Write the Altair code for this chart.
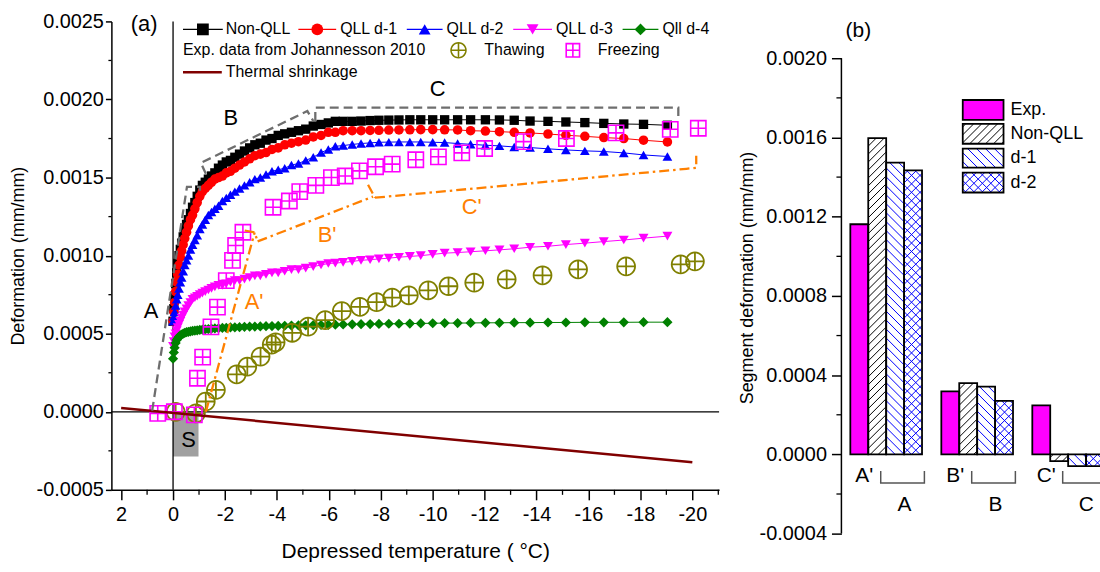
import math
import altair as alt
import pandas as pd

FONT = "Liberation Sans"

# ---------------- panel (a) data ----------------
temp_model = [0.0, -0.03, -0.06, -0.1, -0.14, -0.18, -0.23, -0.28, -0.33, -0.39,
              -0.45, -0.52, -0.59, -0.67, -0.75, -0.84, -0.93, -1.03, -1.13, -1.24,
              -1.36, -1.48, -1.61, -1.75, -1.9, -2.05, -2.21, -2.38, -2.56, -2.75,
              -2.95, -3.15, -3.36, -3.58, -3.81, -4.05, -4.3, -4.56, -4.83, -5.11,
              -5.4, -5.7, -5.98, -6.25, -6.55, -6.9, -7.24, -7.59, -7.93, -8.31,
              -8.7, -9.12, -9.54, -10.0, -10.46, -10.96, -11.46, -12.03, -12.57, -13.14,
              -13.75, -14.44, -15.13, -15.86, -16.59, -17.36, -18.12, -19.04]

non_qll = [0.00058, 0.00066, 0.00074, 0.00082, 0.00089, 0.00095, 0.00100, 0.00104, 0.00108, 0.00112,
           0.00116, 0.00120, 0.00123, 0.00127, 0.00131, 0.00134, 0.00138, 0.00142, 0.00145, 0.00147,
           0.00149, 0.00151, 0.00153, 0.00156, 0.00158, 0.00160, 0.00161, 0.00163, 0.00165, 0.00167,
           0.00169, 0.00171, 0.00172, 0.00174, 0.00175, 0.00177, 0.00178, 0.00179, 0.00180, 0.00181,
           0.00183, 0.00184, 0.00185, 0.00186, 0.00186, 0.00186, 0.001862, 0.001865, 0.001867, 0.001868,
           0.001869, 0.00187, 0.00187, 0.00187, 0.00187, 0.00187, 0.00187, 0.00187, 0.001869, 0.001867,
           0.001862, 0.00186, 0.001856, 0.001852, 0.001847, 0.001843, 0.001841, 0.001835]

qll_d1 = [0.00058, 0.00064, 0.00070, 0.00077, 0.00083, 0.00088, 0.00094, 0.00099, 0.00103, 0.00107,
          0.00111, 0.00115, 0.00119, 0.00123, 0.00126, 0.00130, 0.00134, 0.00138, 0.00141, 0.00143,
          0.00145, 0.00147, 0.00149, 0.00150, 0.00151, 0.00153, 0.00154, 0.00156, 0.00158, 0.00160,
          0.00162, 0.00164, 0.00165, 0.00166, 0.00168, 0.00169, 0.00171, 0.00172, 0.00173, 0.00174,
          0.00176, 0.00177, 0.00179, 0.00179, 0.00180, 0.00180, 0.00180, 0.001802, 0.001803, 0.001804,
          0.001805, 0.001806, 0.001807, 0.001807, 0.001806, 0.001805, 0.0018, 0.001798, 0.001794, 0.00179,
          0.001786, 0.001779, 0.001771, 0.001764, 0.001756, 0.00175, 0.001739, 0.001728]

qll_d2 = [0.00058, 0.00061, 0.00064, 0.00068, 0.00072, 0.00075, 0.00079, 0.00083, 0.00086, 0.00090,
          0.00094, 0.00097, 0.00100, 0.00104, 0.00107, 0.00110, 0.00113, 0.00117, 0.00120, 0.00123,
          0.00126, 0.00128, 0.00130, 0.00132, 0.00135, 0.00137, 0.00139, 0.00141, 0.00143, 0.00145,
          0.00147, 0.00149, 0.00150, 0.00152, 0.00154, 0.00155, 0.00156, 0.00158, 0.00159, 0.00161,
          0.00163, 0.00166, 0.00168, 0.00170, 0.001705, 0.001712, 0.001718, 0.001722, 0.001726, 0.001727,
          0.001728, 0.001728, 0.001728, 0.001726, 0.001724, 0.001718, 0.001713, 0.001707, 0.001703, 0.001696,
          0.001692, 0.001684, 0.001677, 0.001671, 0.001667, 0.001658, 0.001645, 0.001635]

qll_d3 = [0.00042, 0.00045, 0.00048, 0.00050, 0.00052, 0.00054, 0.00056, 0.00058, 0.00060, 0.00062,
          0.00064, 0.00066, 0.00068, 0.00070, 0.00072, 0.00073, 0.00074, 0.00075, 0.00076, 0.00077,
          0.00078, 0.00079, 0.00080, 0.00081, 0.00081, 0.00082, 0.00083, 0.00084, 0.00084, 0.00085,
          0.00086, 0.00087, 0.00087, 0.00088, 0.00089, 0.00089, 0.00090, 0.00091, 0.00091, 0.00092,
          0.00093, 0.00094, 0.00095, 0.000952, 0.000957, 0.000963, 0.00097, 0.000974, 0.000979, 0.000984,
          0.00099, 0.000995, 0.001, 0.001008, 0.001016, 0.00102, 0.001025, 0.001031, 0.001037, 0.001044,
          0.001054, 0.00106, 0.001071, 0.00108, 0.00109, 0.0011, 0.001112, 0.001125]

qll_d4 = [0.00034, 0.00038, 0.00041, 0.00044, 0.00046, 0.00047, 0.00048, 0.00049, 0.000495, 0.0005,
          0.000505, 0.00051, 0.000512, 0.000515, 0.000518, 0.00052, 0.000522, 0.000524, 0.000526, 0.000528,
          0.00053, 0.000532, 0.000534, 0.000535, 0.000537, 0.000538, 0.00054, 0.000541, 0.000542, 0.000544,
          0.000545, 0.000546, 0.000547, 0.000548, 0.000549, 0.00055, 0.000551, 0.000552, 0.000553, 0.000554,
          0.000555, 0.000556, 0.000557, 0.000558, 0.000559, 0.00056, 0.000561, 0.000562, 0.000563, 0.000564,
          0.000564, 0.000565, 0.000566, 0.000567, 0.000568, 0.000568, 0.000569, 0.00057, 0.00057, 0.000571,
          0.000571, 0.000572, 0.000572, 0.000573, 0.000573, 0.000573, 0.000574, 0.000574]

thaw_temp = [-0.1, -0.88, -1.26, -1.65, -2.45, -2.86, -3.37, -3.8, -3.95, -4.59,
             -5.2, -5.86, -6.5, -7.2, -7.84, -8.44, -9.08, -9.83, -10.61, -11.6,
             -12.85, -14.23, -15.6, -17.45, -19.55, -20.1]
thaw_def = [0.0, -0.00001, 0.000066, 0.00014, 0.00024, 0.000289, 0.000353, 0.00043, 0.000445, 0.000506,
            0.000545, 0.000587, 0.000645, 0.000672, 0.000702, 0.000731, 0.000746, 0.000778, 0.000804, 0.000827,
            0.000848, 0.000874, 0.000912, 0.000931, 0.000944, 0.000963]

freeze_temp = [0.59, -0.05, -0.82, -0.94, -1.14, -1.46, -1.71, -2.05, -2.29, -2.41,
               -2.69, -3.85, -4.48, -4.88, -5.5, -6.1, -6.63, -7.18, -7.8, -8.44,
               -9.35, -10.22, -11.12, -12.0, -13.5, -15.15, -17.06, -19.15, -20.23]
freeze_def = [-0.00001, 0.0, -0.00002, 0.000215, 0.00035, 0.000544, 0.00067, 0.00084, 0.00097, 0.001065,
              0.00115, 0.00131, 0.00135, 0.00141, 0.00145, 0.0015, 0.00151, 0.001543, 0.001569, 0.001586,
              0.001614, 0.001633, 0.001658, 0.001686, 0.00173, 0.00175, 0.001786, 0.001809, 0.001816]

shrink_temp = [2.0, -20.0]
shrink_def = [0.000024, -0.000323]

series_names = ["Non-QLL", "QLL d-1", "QLL d-2", "QLL d-3", "Qll d-4"]
series_values = [non_qll, qll_d1, qll_d2, qll_d3, qll_d4]
series_colors = ["#000000", "#FF0000", "#0000FF", "#FF00FF", "#008000"]
series_shapes = ["square", "circle", "triangle-up", "triangle-down", "diamond"]
series_sizes = [88, 105, 135, 135, 160]

# annotation paths (segments A, B, C and A', B', C')
gray_path = ["A", "A", "A", "A", "B", "B", "B", "B", "C", "C", "C", "C"]
gray_x = [0.805, -0.536, -1.034, -1.034, -1.264, -1.073, -5.172, -5.402, -5.479, -5.479, -19.46, -19.46]
gray_y = [0.0000064, 0.001441, 0.001441, 0.001416, 0.001524, 0.001594, 0.001926, 0.001862,
          0.001862, 0.001948, 0.001948, 0.001862]

orange_path = ["a1", "a1", "a2", "a2", "a2", "b1", "b1", "b2", "b2", "c1", "c1", "c1", "c1"]
orange_x = [-1.264, -3.142, -2.759, -3.142, -3.257, -3.257, -7.701, -7.510, -7.778, -7.778, -19.77, -20.15, -20.15]
orange_y = [0.0, 0.001148, 0.001161, 0.001148, 0.001091, 0.001091, 0.001378, 0.001454, 0.001371,
            0.001371, 0.001556, 0.001563, 0.001639]

black_labels = ["A", "B", "C"]
black_label_x = [0.843, -2.22, -10.19]
black_label_y = [0.000644, 0.00188, 0.00207]
orange_labels = ["A'", "B'", "C'"]
orange_label_x = [-3.12, -5.93, -11.5]
orange_label_y = [0.000703, 0.001129, 0.001309]

s_box_x = [0.0, -0.98]
s_box_y = [0.0, -0.000287]

# ---------------- panel (b) data ----------------
seg_primes = ["A'", "B'", "C'"]
seg_plain = ["A", "B", "C"]
bar_series = ["Exp.", "Non-QLL", "d-1", "d-2"]
exp_seg = [0.001162, 0.000318, 0.000247]
nonqll_seg = [0.001597, 0.00036, -0.0000335]
d1_seg = [0.001473, 0.000342, -0.000059]
d2_seg = [0.001434, 0.00027, -0.000059]

# ---------------- layout constants ----------------
A_LEFT, A_TOP, A_W, A_H = 110, 20, 611, 471
XMAX, XMIN = 2.375, -21.03
YMIN, YMAX = -0.0005, 0.0025
B_LEFT, B_TOP, B_W, B_H = 840, 20, 260, 515
BXMIN, BXMAX = -0.492, 2.35
BYMIN, BYMAX = -0.0004, 0.002186
BW = 0.197
PXX = B_W / (BXMAX - BXMIN)
PXY = B_H / (BYMAX - BYMIN)


def ax(px):
    return XMAX - (px - A_LEFT) * (XMAX - XMIN) / A_W


def ay(py):
    return YMAX - (py - A_TOP) * (YMAX - YMIN) / A_H


def bx(px):
    return BXMIN + (px - B_LEFT) * (BXMAX - BXMIN) / B_W


def by(py):
    return BYMAX - (py - B_TOP) * (BYMAX - BYMIN) / B_H


def hatch(X0, X1, Y0, Y1, slope, step):
    out = []
    if slope > 0:
        c_lo, c_hi = Y0 - X1, Y1 - X0
    else:
        c_lo, c_hi = Y0 + X0, Y1 + X1
    k = math.floor(c_lo / step) + 1
    while k * step < c_hi:
        c = k * step
        if slope > 0:
            lo, hi = max(X0, Y0 - c), min(X1, Y1 - c)
            if hi - lo > 0.5:
                out.append((lo, lo + c, hi, hi + c))
        else:
            lo, hi = max(X0, c - Y1), min(X1, c - Y0)
            if hi - lo > 0.5:
                out.append((lo, c - lo, hi, c - hi))
        k += 1
    return out


circle_pts = " ".join(
    ("M" if i == 0 else "L") + f"{math.cos(2 * math.pi * i / 28):.3f},{math.sin(2 * math.pi * i / 28):.3f}"
    for i in range(28))
THAW_SHAPE = circle_pts + " Z M-1,0 L1,0 M0,-1 L0,1"
FREEZE_SHAPE = "M-1,-1 L1,-1 L1,1 L-1,1 Z M-1,0 L1,0 M0,-1 L0,1"

ylab_expr = "replace(format(datum.value, '.4f'), '\u2212', '-')"

# ---------------- panel (a) chart ----------------
XA = alt.X("x:Q", scale=alt.Scale(domain=[XMIN, XMAX], reverse=True, nice=False, zero=False),
           axis=alt.Axis(values=list(range(2, -21, -2)), labelExpr="'' + datum.value",
                         title="Depressed temperature ( \u00b0C)", tickSize=10, labelPadding=5,
                         titlePadding=16, titleFontSize=21))
YA = alt.Y("y:Q", scale=alt.Scale(domain=[YMIN, YMAX], nice=False, zero=False),
           axis=alt.Axis(values=[-0.0005, 0.0, 0.0005, 0.001, 0.0015, 0.002, 0.0025], labelExpr=ylab_expr,
                         title="Deformation (mm/mm)", tickSize=6, labelPadding=2, titlePadding=9,
                         titleFontSize=18))
COLOR = alt.Color("series:N", scale=alt.Scale(domain=series_names, range=series_colors), legend=None)
SHAPE = alt.Shape("series:N", scale=alt.Scale(domain=series_names, range=series_shapes), legend=None)
SIZE = alt.Size("series:O", scale=alt.Scale(domain=series_names, range=series_sizes), legend=None)

model_df = pd.DataFrame([
    {"series": n, "x": t, "y": v}
    for n, vals in zip(series_names, series_values)
    for t, v in zip(temp_model, vals)
])

box = alt.Chart(pd.DataFrame({"x": [s_box_x[0]], "x2": [s_box_x[1]], "y": [s_box_y[0]], "y2": [s_box_y[1]]})
                ).mark_rect(color="#A0A0A0").encode(x=XA, x2="x2:Q", y=YA, y2="y2:Q")

zero = alt.Chart(pd.DataFrame({"x": [XMAX, 0.0], "x2": [XMIN, 0.0], "y": [0.0, YMIN], "y2": [0.0, YMAX]})
                 ).mark_rule(color="black", strokeWidth=1.3).encode(x=XA, x2="x2:Q", y=YA, y2="y2:Q")

lines = alt.Chart(model_df).mark_line(strokeWidth=1).encode(x=XA, y=YA, color=COLOR, detail="series:N")
points = alt.Chart(model_df).mark_point(filled=True, opacity=1).encode(x=XA, y=YA, color=COLOR, shape=SHAPE, size=SIZE)

thaw = alt.Chart(pd.DataFrame({"x": thaw_temp, "y": thaw_def})).mark_point(
    shape=THAW_SHAPE, filled=False, color="#808000", size=324, strokeWidth=1.8, opacity=1).encode(x=XA, y=YA)
freeze = alt.Chart(pd.DataFrame({"x": freeze_temp, "y": freeze_def})).mark_point(
    shape=FREEZE_SHAPE, filled=False, color="#FF00FF", size=235, strokeWidth=1.6, opacity=1).encode(x=XA, y=YA)

shrink = alt.Chart(pd.DataFrame({"x": shrink_temp, "y": shrink_def})).mark_line(
    color="#800000", strokeWidth=2.5).encode(x=XA, y=YA)

gray_df = pd.DataFrame({"path": gray_path, "x": gray_x, "y": gray_y, "ord": range(len(gray_x))})
gray = alt.Chart(gray_df).mark_line(color="#6E6E6E", strokeWidth=2.3, strokeDash=[9, 5]).encode(
    x=XA, y=YA, detail="path:N", order="ord:Q")
orange_df = pd.DataFrame({"path": orange_path, "x": orange_x, "y": orange_y, "ord": range(len(orange_x))})
orange = alt.Chart(orange_df).mark_line(color="#FF8000", strokeWidth=2.3, strokeDash=[10, 4, 2.5, 4]).encode(
    x=XA, y=YA, detail="path:N", order="ord:Q")

txt_black = alt.Chart(pd.DataFrame({
    "x": black_label_x + [-0.6, ax(143)], "y": black_label_y + [-0.00018, ay(23)],
    "t": black_labels + ["S", "(a)"]})).mark_text(font=FONT, fontSize=22, color="black").encode(
    x=XA, y=YA, text="t:N")
txt_orange = alt.Chart(pd.DataFrame({"x": orange_label_x, "y": orange_label_y, "t": orange_labels})
                       ).mark_text(font=FONT, fontSize=22, color="#FF8000").encode(x=XA, y=YA, text="t:N")

# legend of panel (a)
leg_x0 = [182, 298, 407, 514, 624]
leg_x1 = [222, 336, 443, 553, 660]
leg_tx = [225, 340, 447, 557, 664]
row1, row2, row3 = 28, 49, 71
leg_line_df = pd.DataFrame({"series": series_names, "x": [ax(p) for p in leg_x0],
                            "x2": [ax(p) for p in leg_x1], "y": [ay(row1)] * 5})
leg_lines = alt.Chart(leg_line_df).mark_rule(strokeWidth=1.2).encode(x=XA, x2="x2:Q", y=YA, color=COLOR)
leg_pt_df = pd.DataFrame({"series": series_names, "x": [ax((a + b) / 2) for a, b in zip(leg_x0, leg_x1)],
                          "y": [ay(row1)] * 5})
leg_pts = alt.Chart(leg_pt_df).mark_point(filled=True, opacity=1, size=140).encode(
    x=XA, y=YA, color=COLOR, shape=SHAPE)
leg_thaw = alt.Chart(pd.DataFrame({"x": [ax(459)], "y": [ay(row2)]})).mark_point(
    shape=THAW_SHAPE, filled=False, color="#808000", size=225, strokeWidth=1.6, opacity=1).encode(x=XA, y=YA)
leg_freeze = alt.Chart(pd.DataFrame({"x": [ax(574)], "y": [ay(row2)]})).mark_point(
    shape=FREEZE_SHAPE, filled=False, color="#FF00FF", size=180, strokeWidth=1.6, opacity=1).encode(x=XA, y=YA)
leg_shrink = alt.Chart(pd.DataFrame({"x": [ax(182)], "x2": [ax(221)], "y": [ay(row3)]})).mark_rule(
    color="#800000", strokeWidth=2.5).encode(x=XA, x2="x2:Q", y=YA)
leg_text_df = pd.DataFrame({
    "x": [ax(p) for p in leg_tx] + [ax(182), ax(485), ax(599), ax(225)],
    "y": [ay(row1)] * 5 + [ay(row2)] * 3 + [ay(row3)],
    "t": series_names + ["Exp. data from Johannesson 2010", "Thawing", "Freezing", "Thermal shrinkage"]})
leg_text = alt.Chart(leg_text_df).mark_text(font=FONT, fontSize=16, align="left", baseline="middle",
                                             color="black").encode(x=XA, y=YA, text="t:N")

minor_x = alt.Chart(pd.DataFrame({"x": list(range(1, -22, -2))})).mark_rule(
    color="black", strokeWidth=1.3).encode(x=XA, y=alt.value(A_H), y2=alt.value(A_H + 5))
minor_y = alt.Chart(pd.DataFrame({"y": [-0.00025, 0.00025, 0.00075, 0.00125, 0.00175, 0.00225]})).mark_rule(
    color="black", strokeWidth=1.3).encode(y=YA, x=alt.value(0), x2=alt.value(-3))

panel_a = alt.layer(box, zero, lines, points, thaw, freeze, shrink, gray, orange, txt_black, txt_orange,
                    leg_lines, leg_pts, leg_thaw, leg_freeze, leg_shrink, leg_text, minor_x, minor_y
                    ).properties(width=A_W, height=A_H)

# ---------------- panel (b) chart ----------------
XB = alt.X("x:Q", scale=alt.Scale(domain=[BXMIN, BXMAX], nice=False, zero=False), axis=None)
YB = alt.Y("y:Q", scale=alt.Scale(domain=[BYMIN, BYMAX], nice=False, zero=False),
           axis=alt.Axis(values=[-0.0004, 0.0, 0.0004, 0.0008, 0.0012, 0.0016, 0.002], domain=False,
                         labelExpr=ylab_expr, title="Segment deformation (mm/mm)", tickSize=10,
                         labelPadding=5, titlePadding=3, titleFontSize=18))

bar_values = [exp_seg, nonqll_seg, d1_seg, d2_seg]
bar_fill = ["#FF00FF", "#FFFFFF", "#FFFFFF", "#FFFFFF"]
hatch_spec = [[], [(1, 8.0, "#000000")], [(-1, 9.0, "#0000FF")], [(1, 8.5, "#0000FF"), (-1, 8.5, "#0000FF")]]

rect_rows, hatch_rows = [], []
for g in range(3):
    for k in range(4):
        v = bar_values[k][g]
        x0 = g + (k - 2) * BW
        x1 = x0 + BW
        y0, y1 = min(0.0, v), max(0.0, v)
        rect_rows.append({"x": x0, "x2": x1, "y": y0, "y2": y1, "fill": bar_fill[k]})
        for slope, step, col in hatch_spec[k]:
            for a, b, c, d in hatch(x0 * PXX, x1 * PXX, y0 * PXY, y1 * PXY, slope, step):
                hatch_rows.append({"x": a / PXX, "y": b / PXY, "x2": c / PXX, "y2": d / PXY, "c": col})

# legend swatches of panel (b)
sw_x0, sw_x1 = 962, 1003
sw_rows = [(99, 119), (123, 143), (148, 167), (172, 192)]
for k, (t0, t1) in enumerate(sw_rows):
    rect_rows.append({"x": bx(sw_x0), "x2": bx(sw_x1), "y": by(t1), "y2": by(t0), "fill": bar_fill[k]})
    for slope, step, col in hatch_spec[k]:
        for a, b, c, d in hatch(sw_x0, sw_x1, -t1, -t0, slope, step):
            hatch_rows.append({"x": bx(a), "y": by(-b), "x2": bx(c), "y2": by(-d), "c": col})

rect_df = pd.DataFrame(rect_rows)
hatch_df = pd.DataFrame(hatch_rows)

bars_fill = alt.Chart(rect_df).mark_rect(clip=True, strokeWidth=0).encode(
    x=XB, x2="x2:Q", y=YB, y2="y2:Q", color=alt.Color("fill:N", scale=None))
bars_hatch = alt.Chart(hatch_df).mark_rule(clip=True, strokeWidth=1).encode(
    x=XB, x2="x2:Q", y=YB, y2="y2:Q", color=alt.Color("c:N", scale=None))
bars_outline = alt.Chart(rect_df).mark_rect(clip=True, fillOpacity=0, stroke="black", strokeWidth=1.8).encode(
    x=XB, x2="x2:Q", y=YB, y2="y2:Q")

b_axis = alt.Chart(pd.DataFrame({"y": [-0.0004], "y2": [0.002]})).mark_rule(
    color="black", strokeWidth=1.5).encode(x=alt.value(0), y=YB, y2="y2:Q")
b_minor = alt.Chart(pd.DataFrame({"y": [-0.0002, 0.0002, 0.0006, 0.001, 0.0014, 0.0018]})).mark_rule(
    color="black", strokeWidth=1.3).encode(y=YB, x=alt.value(0), x2=alt.value(-5))

br_rows = []
for g in range(3):
    left, right = g - 0.06, g + 0.42
    for i, (xx, yy) in enumerate([(left, by(472)), (left, by(484)), (right, by(484)), (right, by(472))]):
        br_rows.append({"grp": g, "ord": i, "x": xx, "y": yy})
brackets = alt.Chart(pd.DataFrame(br_rows)).mark_line(color="#555555", strokeWidth=1.5, clip=True).encode(
    x=XB, y=YB, detail="grp:N", order="ord:Q")

grp_text_df = pd.DataFrame({
    "x": [g - 1.5 * BW + 0.055 for g in range(3)] + [g + 0.2 for g in range(3)] + [bx(857)],
    "y": [by(477)] * 3 + [by(506)] * 3 + [by(30)],
    "t": seg_primes + seg_plain + ["(b)"]})
grp_text = alt.Chart(grp_text_df).mark_text(font=FONT, fontSize=21, color="black", clip=True).encode(
    x=XB, y=YB, text="t:N")

b_leg_text = alt.Chart(pd.DataFrame({"x": [bx(1010)] * 4, "y": [by((a + b) / 2) for a, b in sw_rows],
                                     "t": bar_series})).mark_text(
    font=FONT, fontSize=18, align="left", baseline="middle", color="black").encode(x=XB, y=YB, text="t:N")

panel_b = alt.layer(bars_fill, bars_hatch, bars_outline, b_axis, b_minor, brackets, grp_text, b_leg_text
                    ).properties(width=B_W, height=B_H)

chart = alt.hconcat(panel_a, panel_b, spacing=18).properties(
    padding={"left": 9, "top": 10, "right": 0, "bottom": 0}
).configure(font=FONT).configure_view(stroke=None).configure_axis(
    labelFont=FONT, titleFont=FONT, labelFontSize=20, labelColor="black", titleColor="black",
    titleFontWeight="normal", domainColor="black", tickColor="black", domainWidth=1.5, tickWidth=1.5,
    grid=False, labelFlush=False, labelOverlap=False)

chart.save("out.html", embed_options={"renderer": "svg", "actions": False})
